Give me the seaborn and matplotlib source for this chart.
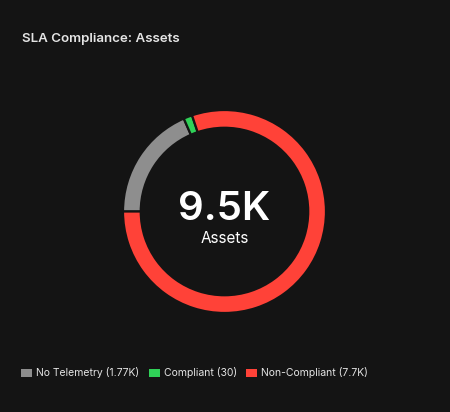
import numpy as np
import matplotlib
matplotlib.use("Agg")
import matplotlib.pyplot as plt
import seaborn as sns
from matplotlib.patches import Patch

# data
categories = ["No Telemetry", "Compliant", "Non-Compliant"]
values = [1770, 30, 7700]
value_labels = ["1.77K", "30", "7.7K"]
colors = ["#8e8e8e", "#30d158", "#ff4238"]
total_label = "9.5K"
center_caption = "Assets"
title = "SLA Compliance: Assets"

BG = "#141414"
TEXT = "#e4e4e4"


def main():
    sns.set_theme(style="dark")
    plt.rcParams["font.family"] = ["Inter", "DejaVu Sans"]

    fig = plt.figure(figsize=(4.5, 4.12), dpi=100)
    fig.patch.set_facecolor(BG)

    # small slices get a minimum visible angle, like the dashboard does
    total = sum(values)
    shown = [max(v, total * 0.014) for v in values]

    ax = fig.add_axes([0.2733, 0.2403, 0.4511, 0.4927])
    ax.set_facecolor("none")
    wedges, _ = ax.pie(shown, colors=colors, startangle=180, counterclock=False,
                       radius=1.0, wedgeprops=dict(width=0.175, edgecolor=BG, linewidth=1.6))
    ax.set_xlim(-1, 1)
    ax.set_ylim(-1, 1)
    ax.set_aspect("equal")
    ax.axis("off")

    ax.text(0, -0.084, total_label, ha="center", va="baseline", color="white",
            fontsize=29, fontweight="semibold")
    ax.text(0, -0.313, center_caption, ha="center", va="baseline", color="white",
            fontsize=11)

    fig.text(22 / 450, 1 - 42 / 412, title, ha="left", va="baseline", color=TEXT,
             fontsize=9.6, fontweight="semibold")

    handles = [Patch(facecolor=c, edgecolor="none") for c in colors]
    labels = [f"{c} ({l})" for c, l in zip(categories, value_labels)]
    leg = fig.legend(handles, labels, loc="center left", bbox_to_anchor=(21 / 450, 1 - 373 / 412),
                     ncol=3, frameon=False, fontsize=7.5, borderpad=0, borderaxespad=0,
                     handlelength=1.05, handleheight=0.85, handletextpad=0.4, columnspacing=0.9)
    for t in leg.get_texts():
        t.set_color(TEXT)

    fig.savefig("out.png", dpi=100, facecolor=fig.get_facecolor())


if __name__ == "__main__":
    main()
